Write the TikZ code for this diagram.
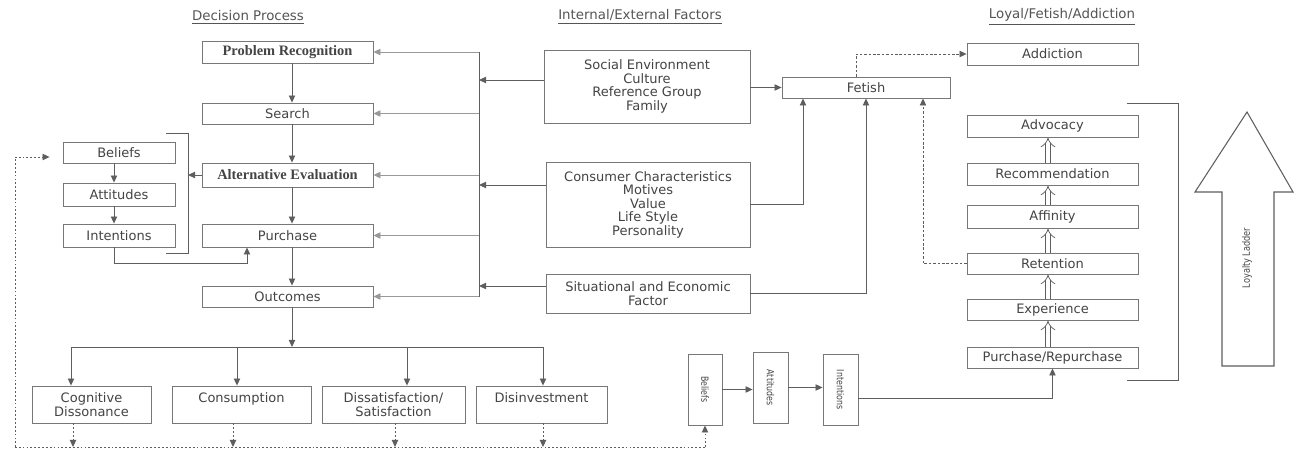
\documentclass[tikz,border=0pt]{standalone}
\usepackage{fontspec}
\setmainfont{DejaVu Sans}
\newfontfamily\condfont[FakeStretch=0.8]{DejaVu Sans}
\newfontfamily\serifbox{Liberation Serif}
\usetikzlibrary{arrows.meta}
\definecolor{linec}{HTML}{5E5E5E}
\definecolor{boxc}{HTML}{777777}
\definecolor{txt}{HTML}{444444}
\definecolor{headc}{HTML}{555555}
\newcommand\pbfont{\serifbox\bfseries\fontsize{8.2}{9}\selectfont}
\newcommand\tinyrot{\condfont\fontsize{5.6}{6}\selectfont}

\tikzset{
  box/.style={draw=boxc, line width=0.5pt, inner sep=0pt, align=center,
    text=txt, font=\fontsize{7.4}{7.7}\selectfont},
  head/.style={text=headc, font=\fontsize{7.6}{8}\selectfont},
  ln/.style={draw=linec, line width=0.5pt},
  lite/.style={draw=black!40, line width=0.5pt},
  arr/.style={ln, -{Triangle[length=4pt,width=3.6pt]}},
  litearr/.style={lite, -{Triangle[length=4pt,width=3.6pt]}},
  dots/.style={ln, dash pattern=on 1pt off 1.2pt},
  dotarr/.style={arr, dash pattern=on 1pt off 1.2pt},
  dasharr/.style={arr, dash pattern=on 1.5pt off 1pt},
  dbl/.style={draw=linec, line width=0.4pt, double=white, double distance=2.6pt,
    -{Implies}},
}

\begin{document}
\begin{tikzpicture}[x=0.02cm,y=-0.02cm]
\useasboundingbox[fill=white] (0,0) rectangle (1296,450);

% column headings
\node[head] (h1) at (248,17) {\underline{Decision Process}};
\node[head] (h2) at (640,17) {\underline{Internal/External Factors}};
\node[head] (h3) at (1062,17) {\underline{Loyal/Fetish/Addiction}};

% decision process
\node[box, minimum width=3.42cm, minimum height=0.44cm, font=\pbfont] (PR) at (287.5,52) {Problem Recognition};
\node[box, minimum width=3.42cm, minimum height=0.42cm] (S)  at (287.5,113.5) {Search};
\node[box, minimum width=3.42cm, minimum height=0.48cm, font=\pbfont] (AE) at (287.5,175) {Alternative Evaluation};
\node[box, minimum width=3.42cm, minimum height=0.46cm] (P)  at (287.5,235.5) {Purchase};
\node[box, minimum width=3.42cm, minimum height=0.42cm] (O)  at (287.5,296.5) {Outcomes};

% beliefs chain on the left
\node[box, minimum width=2.24cm, minimum height=0.42cm] (B1) at (119,152.5) {Beliefs};
\node[box, minimum width=2.24cm, minimum height=0.46cm] (A1) at (119,194.5) {Attitudes};
\node[box, minimum width=2.24cm, minimum height=0.46cm] (I1) at (119,235.5) {Intentions};

% outcome boxes
\node[box, minimum width=2.38cm, minimum height=0.74cm] (CD) at (91.5,404.5) {Cognitive\\Dissonance};
\node[box, minimum width=2.78cm, minimum height=0.74cm] (CO) at (241.5,404.5) {Consumption\\\mbox{}};
\node[box, minimum width=2.86cm, minimum height=0.74cm] (DS) at (393.5,404.5) {Dissatisfaction/\\Satisfaction};
\node[box, minimum width=2.62cm, minimum height=0.74cm] (DI) at (541.5,404.5) {Disinvestment\\\mbox{}};

% factor boxes
\node[box, minimum width=4.12cm, minimum height=1.46cm] (SE) at (647,86.5) {Social Environment\\Culture\\Reference Group\\Family};
\node[box, minimum width=4.08cm, minimum height=1.70cm] (CC) at (648,204.5) {Consumer Characteristics\\Motives\\Value\\Life Style\\Personality};
\node[box, minimum width=4.08cm, minimum height=0.78cm] (SF) at (648,293.5) {Situational and Economic\\Factor};

% loyalty side
\node[box, minimum width=3.36cm, minimum height=0.42cm] (F)   at (866,87.5) {Fetish};
\node[box, minimum width=3.42cm, minimum height=0.44cm] (Add) at (1052.5,54) {Addiction};
\node[box, minimum width=3.42cm, minimum height=0.44cm] (Adv) at (1052.5,126) {Advocacy};
\node[box, minimum width=3.42cm, minimum height=0.44cm] (Rec) at (1052.5,174) {Recommendation};
\node[box, minimum width=3.42cm, minimum height=0.46cm] (Aff) at (1052.5,216.5) {Affinity};
\node[box, minimum width=3.42cm, minimum height=0.42cm] (Ret) at (1052.5,263.5) {Retention};
\node[box, minimum width=3.42cm, minimum height=0.42cm] (Exp) at (1052.5,309.5) {Experience};
\node[box, minimum width=3.42cm, minimum height=0.42cm] (PRp) at (1052.5,357.5) {Purchase/Repurchase};

% small vertical chain
\node[box, minimum width=0.68cm, minimum height=1.42cm, font=\tinyrot] (B2) at (705,389.5) {\rotatebox{-90}{Beliefs}};
\node[box, minimum width=0.70cm, minimum height=1.42cm, font=\tinyrot] (A2) at (770.5,387.5) {\rotatebox{-90}{Attitudes}};
\node[box, minimum width=0.70cm, minimum height=1.42cm, font=\tinyrot] (I2) at (840.5,389.5) {\rotatebox{-90}{Intentions}};

% helper coordinates
\coordinate (dcol) at (292,0);
\coordinate (lcol) at (114,0);
\coordinate (brk) at (188,175);
\coordinate (bus) at (479,0);
\coordinate (hub) at (292,347);
\coordinate (k1) at (71,347);
\coordinate (k2) at (237,347);
\coordinate (k3) at (407,347);
\coordinate (k4) at (543,347);
\coordinate (fb) at (0,447);
\coordinate (fbL) at (15,447);
\coordinate (fbR) at (B2.south |- fb);

% decision flow
\foreach \a/\b in {PR/S, S/AE, AE/P, P/O}
  \draw[arr] (\a.south -| dcol) -- (\b.north -| dcol);
\draw[arr] (B1.south -| lcol) -- (A1.north -| lcol);
\draw[arr] (A1.south -| lcol) -- (I1.north -| lcol);
\draw[arr] (I1.south -| lcol) -- ++(0,16) -| ([xshift=-0.81cm]P.south);

% bracket around the beliefs chain
\draw[ln] (166,133) -- (188,133) -- (188,253) -- (166,253);
\draw[arr] (AE.west) -- (AE.west -| brk);

% factor bus
\draw[ln] (bus |- PR.east) -- (bus |- O.east);
\foreach \n in {PR,S,AE,P,O}
  \draw[litearr] (bus |- \n.east) -- (\n.east);
\coordinate (seo) at ([yshift=0.13cm]SE.west);
\coordinate (cco) at ([yshift=0.39cm]CC.west);
\coordinate (sfo) at ([yshift=0.15cm]SF.west);
\draw[arr] (seo) -- (seo -| bus);
\draw[arr] (cco) -- (cco -| bus);
\draw[arr] (sfo) -- (sfo -| bus);

% outcomes branches
\draw[arr] (O.south -| dcol) -- (hub);
\draw[ln] (k1) -- (k4);
\draw[arr] (k1) -- (k1 |- CD.north);
\draw[arr] (k2) -- (k2 |- CO.north);
\draw[arr] (k3) -- (k3 |- DS.north);
\draw[arr] (k4) -- (k4 |- DI.north);

% feedback loop
\coordinate (c1) at ([xshift=-0.37cm]CD.south);
\coordinate (c2) at ([xshift=-0.17cm]CO.south);
\coordinate (c3) at ([xshift=0.03cm]DS.south);
\coordinate (c4) at ([xshift=0.03cm]DI.south);
\foreach \c in {c1,c2,c3,c4}
  \draw[dotarr] (\c) -- (\c |- fb);
\draw[dots] (fbL) -- (fbR);
\draw[dotarr] (fbR) -- (B2.south);
\draw[dotarr] (fbL) |- ([xshift=-0.26cm,yshift=-0.09cm]B1.west);

% factors into fetish
\draw[arr] (SE.east |- F.west) -- (F.west);
\draw[arr] (CC.east) -| ([xshift=-1.26cm]F.south);
\draw[arr] (SF.east) -| (F.south);
\draw[dasharr] (Ret.west) -| ([xshift=1.14cm]F.south);
\draw[dasharr] ([xshift=-0.2cm]F.north) |- (Add.west);

% loyalty ladder steps
\foreach \a/\b in {PRp/Exp, Exp/Ret, Ret/Aff, Aff/Rec, Rec/Adv}
  \draw[dbl] ([xshift=-0.09cm]\a.north) -- ([xshift=-0.09cm]\b.south);
\draw[ln] (1127,103) -- (1178,103) -- (1178,380) -- (1127,380);

% small chain into repurchase
\draw[arr] (B2.east) -- (B2.east -| A2.west);
\draw[arr] (A2.east) -- (A2.east -| I2.west);
\coordinate (i2o) at ([yshift=-0.17cm]I2.east);
\draw[arr] (i2o) -| (PRp.south);

% loyalty ladder arrow
\draw[ln, line width=0.6pt] (1222,366) -- (1222,192) -- (1195,192) -- (1247,112)
  -- (1293,192) -- (1274,192) -- (1274,366) -- cycle;
\node[rotate=90, text=txt, font=\condfont\fontsize{5.8}{6}\selectfont] (LL) at (1247,258) {Loyalty Ladder};
\end{tikzpicture}
\end{document}
